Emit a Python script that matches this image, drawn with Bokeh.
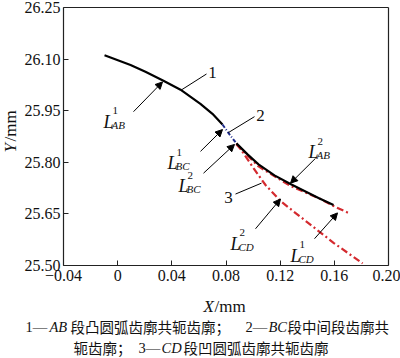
import math
from bokeh.plotting import figure
from bokeh.models import FixedTicker, Label, Arrow, NormalHead, LinearAxis, Range1d
from bokeh.embed import file_html
from bokeh.resources import INLINE

# ---------------- data ----------------
x_ticks = [-0.04, 0.0, 0.04, 0.08, 0.12, 0.16, 0.20]
x_tick_labels = ["\u22120.04", "0", "0.04", "0.08", "0.12", "0.16", "0.20"]
y_ticks = [25.50, 25.65, 25.80, 25.95, 26.10, 26.25]
y_tick_labels = ["25.50", "25.65", "25.80", "25.95", "26.10", "26.25"]

# 1: AB segment (convex arc) conjugate profile, part L_AB^1
ab1_x = [-0.0097, 0.0095, 0.0205, 0.0338, 0.0464, 0.0611, 0.0700, 0.0774]
ab1_y = [26.111, 26.083, 26.063, 26.037, 26.011, 25.970, 25.941, 25.910]
# 2: BC segment conjugate profile
bc_x = [0.0774, 0.0826, 0.0877]
bc_y = [25.910, 25.881, 25.855]
# 1: AB segment, part L_AB^2
ab2_x = [0.0877, 0.0959, 0.1040, 0.1158, 0.1276, 0.1483, 0.1594]
ab2_y = [25.855, 25.823, 25.794, 25.762, 25.737, 25.696, 25.676]
# 3: CD segment (concave arc) conjugate profile, L_CD^1
cd1_x = [0.0877, 0.1040, 0.1276, 0.1498, 0.1609, 0.1720]
cd1_y = [25.852, 25.788, 25.731, 25.693, 25.670, 25.650]
# 3: CD segment, L_CD^2
cd2_x = [0.0877, 0.0914, 0.1003, 0.1092, 0.1203, 0.1351, 0.1594, 0.1809]
cd2_y = [25.855, 25.835, 25.783, 25.734, 25.687, 25.641, 25.566, 25.506]

X0, X1 = -0.04, 0.20
Y0, Y1 = 25.50, 26.25

# ---------------- layout ----------------
W, H = 400, 358
BOX_L, BOX_R, BOX_T, BOX_B = 63, 388, 7, 265   # plot box in canvas pixels
sx = (BOX_R - BOX_L) / (X1 - X0)
sy = (BOX_B - BOX_T) / (Y1 - Y0)
XS, XE = X0 - BOX_L / sx, X1 + (W - BOX_R) / sx
YE, YS = Y1 + BOX_T / sy, Y0 - (H - BOX_B) / sy

p = figure(width=W, height=H, output_backend="svg", toolbar_location=None,
           x_range=Range1d(XS, XE), y_range=Range1d(YS, YE), title=None,
           min_border=0, min_border_left=0, min_border_right=0,
           min_border_top=0, min_border_bottom=0)
p.background_fill_color = "white"
p.border_fill_color = "white"
p.outline_line_color = None
p.grid.visible = False

SERIF = "Liberation Serif"
AX = "#222222"


def style_axis(ax, labels=True):
    ax.major_tick_in = 5 if labels else 0
    ax.major_tick_out = 0
    ax.minor_tick_line_color = None
    ax.axis_line_color = AX
    ax.axis_line_width = 1.2
    ax.major_tick_line_color = AX
    ax.major_label_text_font = SERIF
    ax.major_label_text_font_size = "16px" if labels else "0px"
    ax.major_label_text_color = "#111111"
    ax.major_label_standoff = 4


xa = p.xaxis[0]
style_axis(xa)
xa.fixed_location = Y0
xa.bounds = (X0, X1)
xa.ticker = FixedTicker(ticks=x_ticks)
xa.major_label_overrides = {t: s for t, s in zip(x_ticks, x_tick_labels)}

ya = p.yaxis[0]
style_axis(ya)
ya.fixed_location = X0
ya.bounds = (Y0, Y1)
ya.ticker = FixedTicker(ticks=y_ticks)
ya.major_label_overrides = {t: s for t, s in zip(y_ticks, y_tick_labels)}
ya.major_label_standoff = 3

top = LinearAxis(fixed_location=Y1, bounds=(X0, X1), ticker=FixedTicker(ticks=[]))
style_axis(top, labels=False)
p.add_layout(top, "above")
right = LinearAxis(fixed_location=X1, bounds=(Y0, Y1), ticker=FixedTicker(ticks=[]))
style_axis(right, labels=False)
p.add_layout(right, "right")


def at_data(rx, ry):
    """reference-picture pixel inside the plot box -> data coords (reference calibration)"""
    return X0 + (rx - 63) / (325 / 0.24), Y0 + (265 - ry) / (260 / 0.75)


def at_px(rx, ry):
    """reference-picture pixel -> data coords of this canvas"""
    return XS + rx / sx, YE - ry / sy


RED = "#d42a2f"
BLUE = "#1c2a8a"

p.line(cd2_x, cd2_y, line_color=RED, line_width=2.2, line_dash="7 3 2 3")
p.line(cd1_x, cd1_y, line_color=RED, line_width=2.2, line_dash="7 3 2 3")
p.line(ab1_x, ab1_y, line_color="black", line_width=2.2)
p.line(ab2_x, ab2_y, line_color="black", line_width=2.2)
p.line(bc_x, bc_y, line_color=BLUE, line_width=2.0, line_dash="4 2 1 2")


def txt(s, pos, size, italic=False, align="left", baseline="alphabetic",
        font=SERIF, angle=0.0, color="#111111"):
    x, y = pos
    p.add_layout(Label(x=x, y=y, text=s, text_font=font, text_font_size=f"{size}px",
                       text_font_style="italic" if italic else "normal",
                       text_align=align, text_baseline=baseline, angle=angle,
                       text_color=color))


def arrow(rx0, ry0, rx1, ry1, head=True):
    x0, y0 = at_data(rx0, ry0)
    x1, y1 = at_data(rx1, ry1)
    end = NormalHead(size=7, fill_color="black", line_color="black", line_width=1) if head else None
    p.add_layout(Arrow(x_start=x0, y_start=y0, x_end=x1, y_end=y1, end=end,
                       line_color="black", line_width=1))


def lname(rx, ry, sup, sub):
    txt("L", at_data(rx, ry), 18, italic=True)
    txt(sup, at_data(rx + 9, ry - 11), 11)
    txt(sub, at_data(rx + 8, ry + 3), 11, italic=True)


# curve labels and arrows
lname(103, 120, "1", "AB")
arrow(133, 110, 162, 80)
lname(167, 162, "1", "BC")
arrow(200, 150, 222, 128)
lname(178, 185, "2", "BC")
arrow(203, 172, 234, 143)
lname(308, 151, "2", "AB")
arrow(315, 157, 290, 182)
lname(230, 243, "2", "CD")
arrow(255, 228, 280, 198)
lname(290, 255, "1", "CD")
arrow(314, 238, 337, 212)

# numbered leaders
arrow(181, 88, 206, 72, head=False)
txt("1", at_data(212, 70), 17, align="center", baseline="middle")
arrow(228, 131, 254, 115, head=False)
txt("2", at_data(260, 114), 17, align="center", baseline="middle")
arrow(235, 193, 261, 182, head=False)
txt("3", at_data(228, 196), 17, align="center", baseline="middle")

# axis titles
txt("X", at_px(203, 306), 17, italic=True)
txt("/mm", at_px(214, 306), 17)
txt("Y", at_px(10, 152), 17, italic=True, angle=math.pi / 2, baseline="middle")
txt("/mm", at_px(10, 141), 17, angle=math.pi / 2, baseline="middle")

# caption
CJK = "Noto Sans CJK SC"
CS = 14.5
txt("1\u2014", at_px(25, 326), CS)
txt("AB", at_px(49, 326), CS, italic=True)
txt("段凸圆弧齿廓共轭齿廓；", at_px(70, 326), CS, font=CJK)
txt("2\u2014", at_px(245, 326), CS)
txt("BC", at_px(268, 326), CS, italic=True)
txt("段中间段齿廓共", at_px(287, 326), CS, font=CJK)

txt("轭齿廓；", at_px(73, 347), CS, font=CJK)
txt("3\u2014", at_px(138, 347), CS)
txt("CD", at_px(161, 347), CS, italic=True)
txt("段凹圆弧齿廓共轭齿廓", at_px(183, 347), CS, font=CJK)

open("out.html", "w").write(file_html(p, INLINE))
